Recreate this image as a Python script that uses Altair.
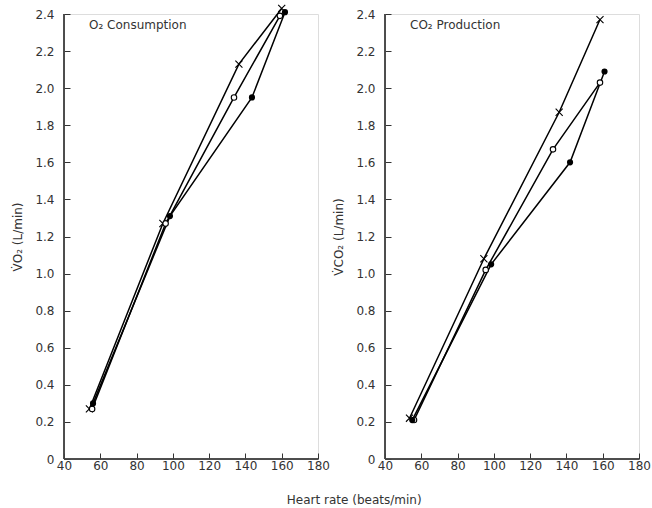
import altair as alt
import pandas as pd

# ---- data ----
x_ticks = [40, 60, 80, 100, 120, 140, 160, 180]
y_ticks = [0, 0.2, 0.4, 0.6, 0.8, 1.0, 1.2, 1.4, 1.6, 1.8, 2.0, 2.2, 2.4]

# O2 consumption panel
o2_cross_hr = [54.0, 94.5, 136.4, 160.0]
o2_cross_v = [0.27, 1.27, 2.13, 2.43]
o2_open_hr = [55.5, 96.0, 133.7, 159.0]
o2_open_v = [0.27, 1.27, 1.95, 2.39]
o2_fill_hr = [56.0, 98.4, 143.6, 161.8]
o2_fill_v = [0.30, 1.31, 1.95, 2.41]

# CO2 production panel
co2_cross_hr = [53.5, 94.5, 136.0, 158.5]
co2_cross_v = [0.22, 1.08, 1.87, 2.37]
co2_open_hr = [56.0, 95.5, 132.6, 158.5]
co2_open_v = [0.21, 1.02, 1.67, 2.03]
co2_fill_hr = [55.0, 98.5, 142.0, 161.0]
co2_fill_v = [0.21, 1.05, 1.60, 2.09]

FONT = "DejaVu Sans"
CROSS = "M-1,-1L1,1M-1,1L1,-1"
INK = "#333"
X_MIN, Y_MIN = 40, 0


def make_df(chr_, cv, ohr, ov, fhr, fv):
    rows = []
    for s, hs, vs in (("cross", chr_, cv), ("open", ohr, ov), ("filled", fhr, fv)):
        for h, v in zip(hs, vs):
            rows.append({"series": s, "hr": h, "v": v, "x0": X_MIN, "y0": Y_MIN})
    return pd.DataFrame(rows)


def panel(df, label_text, ytitle):
    xsc = alt.Scale(domain=[40, 180], nice=False, zero=False)
    ysc = alt.Scale(domain=[0, 2.4], nice=False)
    base = alt.Chart(df)

    # inward ticks: axis shifted inside by the tick length, domain drawn by rules
    xaxis = alt.Axis(values=x_ticks, ticks=True, tickSize=6, offset=-6, domain=False,
                     tickColor="#333", tickWidth=1, title=None, labelFont=FONT,
                     labelFontSize=12, labelColor=INK, labelPadding=1, grid=False,
                     labelFlush=False)
    yaxis = alt.Axis(values=y_ticks, ticks=True, tickSize=6, offset=-6, domain=False,
                     tickColor="#333", tickWidth=1, title=ytitle, labelFont=FONT,
                     labelFontSize=12, labelColor=INK, labelPadding=10, grid=False,
                     labelExpr="datum.value == 0 ? '0' : format(datum.value, '.1f')",
                     titleFont=FONT, titleFontSize=12, titleFontWeight="normal",
                     titleColor=INK, titlePadding=10)

    X = alt.X("hr:Q", scale=xsc, axis=xaxis)
    Y = alt.Y("v:Q", scale=ysc, axis=yaxis)
    line = base.mark_line(color="black", strokeWidth=1.5).encode(
        x=X, y=Y, detail="series:N", order="hr:Q")
    crosses = base.transform_filter(alt.datum.series == "cross").mark_point(
        shape=CROSS, size=50, stroke="black", strokeWidth=1.1, filled=False, opacity=1
    ).encode(x=X, y=Y)
    opens = base.transform_filter(alt.datum.series == "open").mark_circle(
        size=30, stroke="black", fill="white", strokeWidth=1.1, opacity=1
    ).encode(x=X, y=Y)
    filled = base.transform_filter(alt.datum.series == "filled").mark_circle(
        size=38, color="black", opacity=1
    ).encode(x=X, y=Y)
    left_edge = base.transform_filter(alt.datum.series == "cross").mark_rule(
        color="#444", strokeWidth=1).encode(x=alt.X("x0:Q", scale=xsc, axis=xaxis))
    bottom_edge = base.transform_filter(alt.datum.series == "cross").mark_rule(
        color="#444", strokeWidth=1).encode(y=alt.Y("y0:Q", scale=ysc, axis=yaxis))
    label = alt.Chart(pd.DataFrame({"label": [label_text]})).mark_text(
        align="left", baseline="middle", font=FONT, fontSize=12, color=INK
    ).encode(text="label:N", x=alt.value(25), y=alt.value(11))
    return alt.layer(line, crosses, opens, filled, left_edge, bottom_edge, label
                     ).properties(width=254, height=445)


left = panel(make_df(o2_cross_hr, o2_cross_v, o2_open_hr, o2_open_v, o2_fill_hr, o2_fill_v),
             "O₂   Consumption", "V̇O₂ (L/min)")
right = panel(make_df(co2_cross_hr, co2_cross_v, co2_open_hr, co2_open_v, co2_fill_hr, co2_fill_v),
              "CO₂   Production", "V̇CO₂ (L/min)")

chart = alt.hconcat(left, right, spacing=2).properties(
    title=alt.TitleParams("Heart rate (beats/min)", orient="bottom", anchor="middle",
                          font=FONT, fontSize=12, fontWeight="normal", color=INK,
                          offset=23, dx=23),
    padding={"left": 11, "right": 0, "top": 2, "bottom": 0},
).configure_view(stroke="transparent", strokeWidth=0).configure(background="white")

chart.save("out.html", embed_options={"renderer": "svg", "actions": False})
